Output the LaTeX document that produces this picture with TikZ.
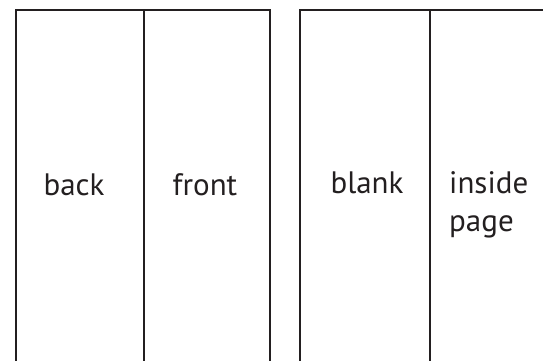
\documentclass[tikz,border=0pt]{standalone}
\usepackage{fontspec}
\setmainfont{PT Sans}
\definecolor{ink}{HTML}{231F20}
\usetikzlibrary{positioning}
\tikzset{
  panel/.style={draw=ink,line width=2pt},
  lab/.style={font=\fontsize{31}{38}\selectfont,text=ink,inner sep=0pt,anchor=base},
}

\begin{document}
\begin{tikzpicture}[x=1pt,y=-1pt]
\useasboundingbox (0,0) rectangle (543,361);
% left sheet
\draw[panel] (16,370) -- (16,10) -- (270,10) -- (270,370);
\draw[panel] (144,10) -- (144,370);
% right sheet
\draw[panel] (300,370) -- (300,10) -- (560,10);
\draw[panel] (430,10) -- (430,370);
\node[lab] (back) at (74,195) {back};
\node[lab] (front) at (205,195) {front};
\node[lab] (blank) at (367,193) {blank};
\node[lab,anchor=base west,align=left] (inside) at (449,231) {inside\\page};
\end{tikzpicture}
\end{document}
